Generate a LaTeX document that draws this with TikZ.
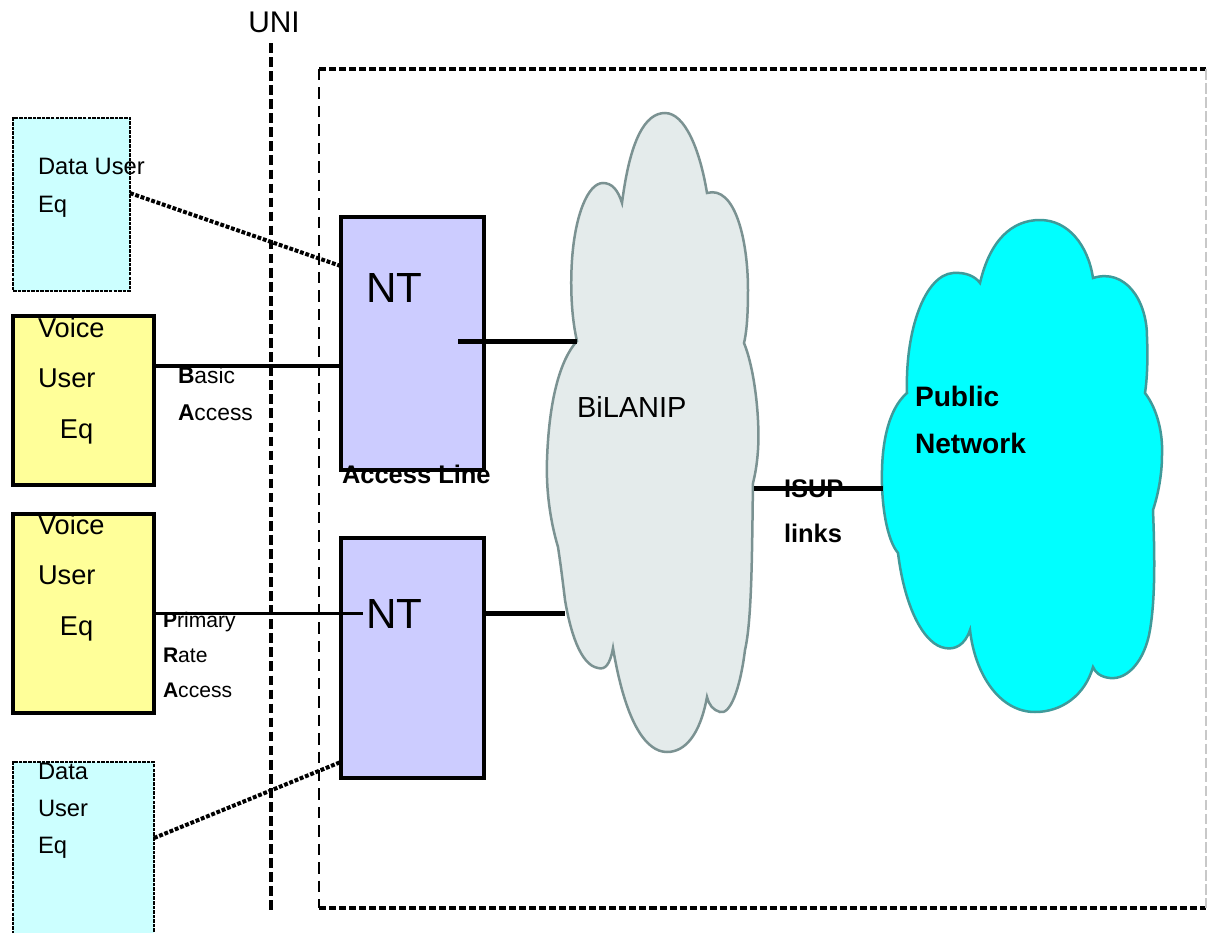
\documentclass[tikz,border=0pt]{standalone}
\usepackage{fontspec}
\setmainfont{Liberation Sans}
\usetikzlibrary{calc}

\definecolor{dataFill}{HTML}{CCFFFF}
\definecolor{voiceFill}{HTML}{FFFF99}
\definecolor{ntFill}{HTML}{CCCCFF}
\definecolor{lanFill}{HTML}{E4EBEB}
\definecolor{lanEdge}{HTML}{7B9292}
\definecolor{pubFill}{HTML}{00FFFF}
\definecolor{pubEdge}{HTML}{3F9A9A}
\definecolor{frameGray}{HTML}{C8C8C8}

\begin{document}
\begin{tikzpicture}[x=0.02cm, y=-0.02cm,
        every node/.style={inner sep=0pt, outer sep=0pt},
        databox/.style={draw, fill=dataFill, line width=0.04cm, dash pattern=on 2pt off 0.6pt},
        voicebox/.style={draw, fill=voiceFill, line width=0.08cm},
        ntbox/.style={draw, fill=ntFill, line width=0.08cm},
        lbl/.style={anchor=base west, align=left},
        dotlink/.style={line width=0.08cm, dash pattern=on 2.2pt off 1pt},
        solidlink/.style={line width=0.09cm}]
    \useasboundingbox (0,0) rectangle (1208,933);
    \clip (0,0) rectangle (1208,933);

    % Frame of the network side and the UNI line
    \draw[line width=0.07cm, dash pattern=on 4pt off 1.7pt] (319,69) -- (1206,69);
    \draw[line width=0.07cm, dash pattern=on 4pt off 1.7pt] (319,908) -- (1206,908);
    \draw[line width=0.05cm, dash pattern=on 6.5pt off 4pt] (319,69) -- (319,908);
    \draw[frameGray, line width=0.04cm, dash pattern=on 6pt off 2pt] (1206,69) -- (1206,908);
    \node[anchor=base, font=\fontsize{17}{20}\selectfont] (uni) at (274,32) {UNI};
    \coordinate (uniTop) at (271,43);
    \draw[line width=0.08cm, dash pattern=on 5.5pt off 2.5pt] (uniTop) -- ++(0,869);

    % User equipment
    \node[databox, minimum width=2.34cm, minimum height=3.46cm] (dataA) at (71.5,204.5) {};
    \node[voicebox, minimum width=2.82cm, minimum height=3.38cm] (voiceA) at (83.5,400.5) {};
    \node[voicebox, minimum width=2.82cm, minimum height=3.98cm] (voiceB) at (83.5,613.5) {};
    \node[databox, minimum width=2.82cm, minimum height=3.96cm] (dataB) at (83.5,861) {};

    % Network terminations
    \node[ntbox, minimum width=2.86cm, minimum height=5.06cm] (ntA) at (412.5,343.5) {};
    \node[ntbox, minimum width=2.86cm, minimum height=4.80cm] (ntB) at (412.5,658) {};

    % BiLANIP cloud
    \filldraw[fill=lanFill, draw=lanEdge, line width=0.05cm]
        (622,203) .. controls (630,140) and (645,113) .. (665,113)
        .. controls (685,113) and (700,150) .. (707,193)
        .. controls (735,185) and (748,240) .. (748,290)
        .. controls (748,320) and (746,335) .. (744,343)
        .. controls (755,370) and (760,420) .. (758,450)
        .. controls (757,465) and (755,475) .. (753,483)
        .. controls (752,550) and (752,620) .. (745,650)
        .. controls (740,690) and (730,715) .. (720,712)
        .. controls (713,710) and (709,705) .. (707,697)
        .. controls (700,735) and (685,752) .. (667,752)
        .. controls (645,752) and (625,720) .. (613,648)
        .. controls (610,665) and (605,670) .. (598,668)
        .. controls (580,665) and (570,630) .. (565,600)
        .. controls (562,575) and (560,560) .. (558,547)
        .. controls (550,520) and (546,490) .. (547,460)
        .. controls (549,400) and (560,360) .. (577,341) coordinate (lanA)
        .. controls (572,320) and (570,290) .. (572,260)
        .. controls (575,215) and (588,183) .. (603,183)
        .. controls (612,183) and (618,190) .. (622,203) -- cycle;
    \coordinate (lanB) at (565,613);
    \coordinate (lanOut) at (754,488);

    % Public network cloud
    \filldraw[fill=pubFill, draw=pubEdge, line width=0.05cm]
        (980,283) .. controls (990,240) and (1012,220) .. (1040,220)
        .. controls (1068,220) and (1088,245) .. (1093,278)
        .. controls (1125,268) and (1147,300) .. (1147,337)
        .. controls (1148,360) and (1147,380) .. (1145,393)
        .. controls (1158,410) and (1163,435) .. (1162,455)
        .. controls (1162,475) and (1158,495) .. (1153,510)
        .. controls (1155,560) and (1155,600) .. (1150,630)
        .. controls (1145,660) and (1128,680) .. (1110,678)
        .. controls (1100,677) and (1095,672) .. (1093,667)
        .. controls (1085,695) and (1062,712) .. (1035,712)
        .. controls (1000,712) and (975,675) .. (970,630)
        .. controls (965,645) and (955,650) .. (945,648)
        .. controls (925,645) and (905,610) .. (898,553)
        .. controls (887,540) and (881,505) .. (882,470)
        .. controls (883,430) and (893,405) .. (907,393)
        .. controls (905,330) and (925,275) .. (953,273)
        .. controls (965,272) and (975,276) .. (980,283) -- cycle;
    \coordinate (pubIn) at (883,488);

    % Links
    \draw[dotlink] ($(dataA.north east)!0.434!(dataA.south east)$) -- ($(ntA.north west)!0.194!(ntA.south west)$);
    \draw[solidlink] ($(voiceA.north east)!0.296!(voiceA.south east)$) coordinate (basicA) -- (basicA -| ntA.west);
    \draw[line width=0.06cm] (voiceB.east) -- (voiceB.east -| ntB.west) -- ++(22,0);
    \draw[dotlink] ($(dataB.north east)!0.384!(dataB.south east)$) -- ($(ntB.north west)!0.933!(ntB.south west)$);
    \draw[line width=0.1cm] (lanA) -- ++(-119,0);
    \draw[line width=0.1cm] (ntB.east |- lanB) -- (lanB);
    \draw[line width=0.1cm] (lanOut) -- (pubIn);

    % Texts (multi-line nodes sit on the baseline of their last line)
    \node[lbl, font=\fontsize{13.5}{21.6}\selectfont] (dataAtxt) at (38,212) {Data User\\Eq};
    \node[lbl, font=\fontsize{15.5}{28.5}\selectfont] (voiceAtxt) at (38,438) {Voice\\User\\\hspace{12.5pt}Eq};
    \node[lbl, font=\fontsize{15.5}{28.5}\selectfont] (voiceBtxt) at (38,635) {Voice\\User\\\hspace{12.5pt}Eq};
    \node[lbl, font=\fontsize{13.5}{20.8}\selectfont] (dataBtxt) at (38,853) {Data\\User\\Eq};
    \node[lbl, font=\fontsize{13}{21}\selectfont] (basic) at (178,420) {\textbf{B}asic\\\textbf{A}ccess};
    \node[lbl, font=\fontsize{12}{19.9}\selectfont] (primary) at (163,697) {\textbf{P}rimary\\\textbf{R}ate\\\textbf{A}ccess};
    \node[lbl, font=\fontsize{24}{28}\selectfont] (ntAtxt) at (366,302) {NT};
    \node[lbl, font=\fontsize{24}{28}\selectfont] (ntBtxt) at (366,628) {NT};
    \node[lbl, font=\bfseries\fontsize{14.5}{18}\selectfont] (access) at (342,483) {Access Line};
    \node[lbl, font=\fontsize{16.5}{20}\selectfont] (lanTxt) at (577,417) {BiLANIP};
    \node[lbl, font=\bfseries\fontsize{14.5}{25.6}\selectfont] (isup) at (784,542) {ISUP\\links};
    \node[lbl, font=\bfseries\fontsize{16}{26.2}\selectfont] (pubTxt) at (915,453) {Public\\Network};
\end{tikzpicture}
\end{document}
